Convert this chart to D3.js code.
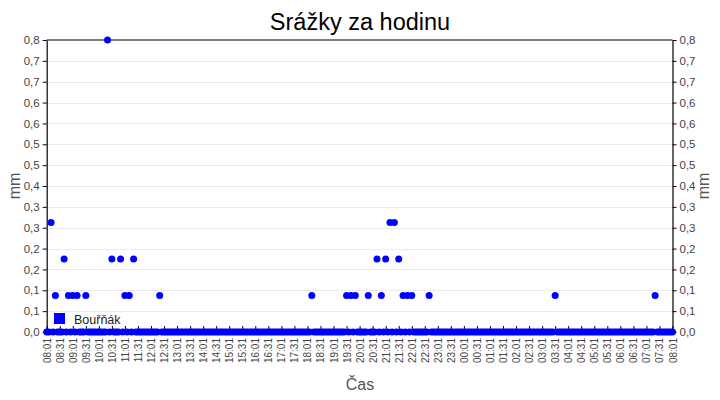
<!DOCTYPE html>
<html>
<head>
<meta charset="utf-8">
<script src="https://cdn.jsdelivr.net/npm/d3@7"></script>
<style>
  html, body { margin: 0; padding: 0; background: #fff; }
  svg { display: block; font-family: "Liberation Sans", Arial, sans-serif; }
</style>
</head>
<body>
<svg id="chart" width="720" height="400"></svg>
<script>
// ---- data ----
const chartTitle = "Srážky za hodinu";
const seriesName = "Bouřňák";
const xTitle = "Čas";
const yTitle = "mm";
const sampleStepMinutes = 5;
const totalMinutes = 1440;
// rainfall readings (mm), one every 5 minutes from 08:01 to 08:01 next day (one row = one hour)
const rainValues = [
  0, 0, 0.3, 0, 0.1, 0, 0, 0, 0.2, 0, 0.1, 0,      // 08:01
  0.1, 0, 0.1, 0, 0, 0, 0.1, 0, 0, 0, 0, 0,        // 09:01
  0, 0, 0, 0, 0.8, 0, 0.2, 0, 0, 0, 0.2, 0,        // 10:01
  0.1, 0, 0.1, 0, 0.2, 0, 0, 0, 0, 0, 0, 0,        // 11:01
  0, 0, 0, 0, 0.1, 0, 0, 0, 0, 0, 0, 0,            // 12:01
  0, 0, 0, 0, 0, 0, 0, 0, 0, 0, 0, 0,              // 13:01
  0, 0, 0, 0, 0, 0, 0, 0, 0, 0, 0, 0,              // 14:01
  0, 0, 0, 0, 0, 0, 0, 0, 0, 0, 0, 0,              // 15:01
  0, 0, 0, 0, 0, 0, 0, 0, 0, 0, 0, 0,              // 16:01
  0, 0, 0, 0, 0, 0, 0, 0, 0, 0, 0, 0,              // 17:01
  0, 0, 0.1, 0, 0, 0, 0, 0, 0, 0, 0, 0,            // 18:01
  0, 0, 0, 0, 0, 0, 0.1, 0, 0.1, 0, 0.1, 0,        // 19:01
  0, 0, 0, 0, 0.1, 0, 0, 0, 0.2, 0, 0.1, 0,        // 20:01
  0.2, 0, 0.3, 0, 0.3, 0, 0.2, 0, 0.1, 0, 0.1, 0,  // 21:01
  0.1, 0, 0, 0, 0, 0, 0, 0, 0.1, 0, 0, 0,          // 22:01
  0, 0, 0, 0, 0, 0, 0, 0, 0, 0, 0, 0,              // 23:01
  0, 0, 0, 0, 0, 0, 0, 0, 0, 0, 0, 0,              // 00:01
  0, 0, 0, 0, 0, 0, 0, 0, 0, 0, 0, 0,              // 01:01
  0, 0, 0, 0, 0, 0, 0, 0, 0, 0, 0, 0,              // 02:01
  0, 0, 0, 0, 0, 0, 0.1, 0, 0, 0, 0, 0,            // 03:01
  0, 0, 0, 0, 0, 0, 0, 0, 0, 0, 0, 0,              // 04:01
  0, 0, 0, 0, 0, 0, 0, 0, 0, 0, 0, 0,              // 05:01
  0, 0, 0, 0, 0, 0, 0, 0, 0, 0, 0, 0,              // 06:01
  0, 0, 0, 0, 0.1, 0, 0, 0, 0, 0, 0, 0,            // 07:01
  0                                                // 08:01
];
const xTickLabels = [
  "08:01","08:31","09:01","09:31","10:01","10:31","11:01","11:31","12:01","12:31",
  "13:01","13:31","14:01","14:31","15:01","15:31","16:01","16:31","17:01","17:31",
  "18:01","18:31","19:01","19:31","20:01","20:31","21:01","21:31","22:01","22:31",
  "23:01","23:31","00:01","00:31","01:01","01:31","02:01","02:31","03:01","03:31",
  "04:01","04:31","05:01","05:31","06:01","06:31","07:01","07:31","08:01"
];
const yMax = 0.8;
const yTickLabels = ["0,0","0,1","0,1","0,2","0,2","0,3","0,3","0,4","0,5","0,5","0,6","0,6","0,7","0,7","0,8"];

// ---- layout ----
const W = 720, H = 400;
const m = { left: 46.7, right: 47.5, top: 40, bottom: 68 };
const svg = d3.select("#chart");

const x = d3.scaleLinear().domain([0, totalMinutes]).range([m.left, W - m.right]);
const y = d3.scaleLinear().domain([0, yMax]).range([H - m.bottom, m.top]);

const yTickVals = yTickLabels.map((_, i) => i * yMax / (yTickLabels.length - 1));
const xTickVals = xTickLabels.map((_, i) => i * totalMinutes / (xTickLabels.length - 1));

// gridlines
svg.append("g").selectAll("line").data(yTickVals.slice(1, -1)).join("line")
  .attr("x1", x(0)).attr("x2", x(totalMinutes))
  .attr("y1", d => Math.round(y(d)) + 0.5).attr("y2", d => Math.round(y(d)) + 0.5)
  .attr("stroke", "#ebebeb").attr("stroke-width", 1);

// top border
svg.append("line")
  .attr("x1", x(0)).attr("x2", x(totalMinutes))
  .attr("y1", y(yMax)).attr("y2", y(yMax))
  .attr("stroke", "#000").attr("stroke-width", 1.2);

const fmt = (labels, vals) => d => labels[vals.indexOf(d)];

// left axis
const gL = svg.append("g").attr("transform", `translate(${x(0)},0)`)
  .call(d3.axisLeft(y).tickValues(yTickVals).tickFormat(fmt(yTickLabels, yTickVals)).tickSize(4).tickSizeOuter(0).tickPadding(3));
// right axis
const gR = svg.append("g").attr("transform", `translate(${x(totalMinutes)},0)`)
  .call(d3.axisRight(y).tickValues(yTickVals).tickFormat(fmt(yTickLabels, yTickVals)).tickSize(4).tickSizeOuter(0).tickPadding(3));
// bottom axis
const gB = svg.append("g").attr("transform", `translate(0,${y(0)})`)
  .call(d3.axisBottom(x).tickValues(xTickVals).tickFormat(fmt(xTickLabels, xTickVals)).tickSize(-6).tickSizeOuter(0));

[gL, gR].forEach(g => {
  g.select(".domain").attr("stroke", "#000").attr("stroke-width", 1.2);
  g.selectAll(".tick line").attr("stroke", "#000");
  g.selectAll("text").attr("font-size", "11.5px").attr("fill", "#444")
    .attr("font-family", "'Liberation Sans', Arial, sans-serif");
});
gB.select(".domain").attr("stroke", "#000");
gB.selectAll(".tick line").attr("stroke", "#000");
gB.selectAll(".tick text")
  .attr("font-size", "10px").attr("fill", "#444")
  .attr("font-family", "'Liberation Sans', Arial, sans-serif")
  .attr("text-anchor", "end")
  .attr("transform", "rotate(-90)")
  .attr("x", -6).attr("y", 0).attr("dy", "0.35em");

// points (zeros first so rain readings sit on top)
const pts = rainValues.map((v, i) => ({ t: i * sampleStepMinutes, v }))
  .sort((a, b) => (a.v > 0) - (b.v > 0));
svg.append("g").selectAll("circle").data(pts).join("circle")
  .attr("cx", d => x(d.t)).attr("cy", d => y(d.v)).attr("r", 3.5)
  .attr("fill", "#0000ff");

// title
svg.append("text").attr("x", 360).attr("y", 30).attr("text-anchor", "middle")
  .attr("font-size", "23.5px").attr("fill", "#000").text(chartTitle);

// axis titles
svg.append("text").attr("transform", `translate(20,${(y(0) + y(yMax)) / 2}) rotate(-90)`)
  .attr("text-anchor", "middle").attr("font-size", "16px").attr("fill", "#555").text(yTitle);
svg.append("text").attr("transform", `translate(709,${(y(0) + y(yMax)) / 2}) rotate(-90)`)
  .attr("text-anchor", "middle").attr("font-size", "16px").attr("fill", "#555").text(yTitle);
svg.append("text").attr("x", 360).attr("y", 390).attr("text-anchor", "middle")
  .attr("font-size", "16px").attr("fill", "#555").text(xTitle);

// legend
svg.append("rect").attr("x", 54).attr("y", 313).attr("width", 11).attr("height", 11).attr("fill", "#0000ff");
svg.append("text").attr("x", 74).attr("y", 323.5).attr("font-size", "12.5px").attr("fill", "#222").text(seriesName);
</script>
</body>
</html>
